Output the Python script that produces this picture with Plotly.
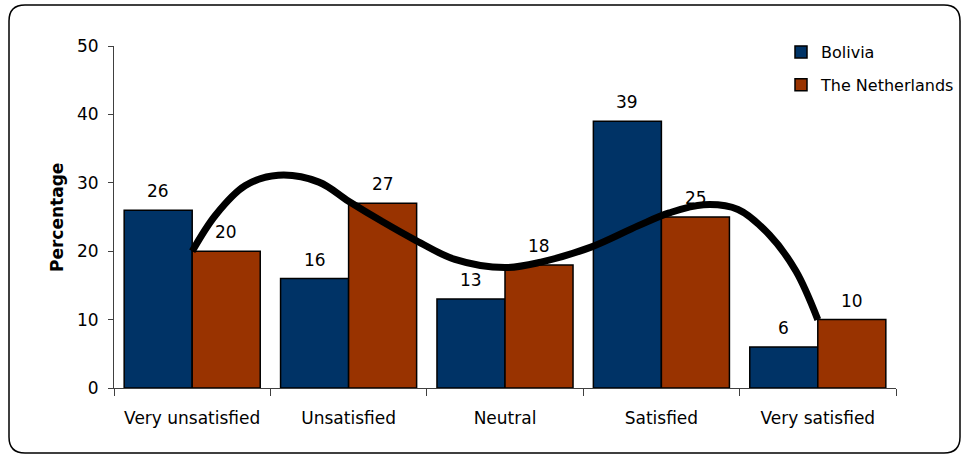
import plotly.graph_objects as go

# Survey satisfaction, share of respondents per answer (%)
categories = ["Very unsatisfied", "Unsatisfied", "Neutral", "Satisfied", "Very satisfied"]
bolivia = [26, 16, 13, 39, 6]
netherlands = [20, 27, 18, 25, 10]

# Smoothed trend line traced along the Netherlands results
# (position in category units, value in %)
trend_x = [0.0, 0.15, 0.34, 0.55, 0.81, 1.0, 1.21, 1.42, 1.68, 2.0,
           2.23, 2.55, 2.85, 3.05, 3.27, 3.49, 3.69, 3.86, 4.0]
trend_y = [20, 25.3, 29.6, 31.1, 30.1, 27.3, 24.4, 21.7, 18.8, 17.6,
           18.4, 20.6, 23.7, 25.6, 26.8, 26.1, 22.4, 17.1, 10]

FONT = "DejaVu Sans"
BLUE = "#003366"
BROWN = "#993300"

W, H = 963, 456
ML, MR, MT, MB = 114, 67, 46, 68
PW, PH = W - ML - MR, H - MT - MB


def px_x(px):
    return (px - ML) / PW


def px_y(py):
    return (H - MB - py) / PH


fig = go.Figure()
fig.add_trace(go.Bar(
    x=categories, y=bolivia, name="Bolivia", legendgroup="a",
    marker=dict(color=BLUE, line=dict(color="#000000", width=1.5)),
))
fig.add_trace(go.Bar(
    x=categories, y=netherlands, name="The Netherlands", legendgroup="b",
    marker=dict(color=BROWN, line=dict(color="#000000", width=1.5)),
))
fig.add_trace(go.Scatter(
    x=trend_x, y=trend_y, xaxis="x2", mode="lines", showlegend=False,
    line=dict(color="#000000", width=7, shape="spline", smoothing=1.0),
    hoverinfo="skip",
))

# value labels above each bar
annotations = []
for i, (b, n) in enumerate(zip(bolivia, netherlands)):
    for val, off in ((b, -0.218), (n, 0.218)):
        annotations.append(dict(
            x=i + off, y=val, xref="x2", yref="y", text=str(val),
            showarrow=False, yanchor="bottom", yshift=7,
            font=dict(family=FONT, size=17, color="#000000"),
        ))

# y-axis title
annotations.append(dict(
    x=px_x(57), y=0.5, xref="paper", yref="paper", text="<b>Percentage</b>",
    textangle=-90, showarrow=False, xanchor="center", yanchor="middle",
    font=dict(family=FONT, size=17, color="#000000"),
))

# rounded frame around the whole chart
l, r, t, b, rad = 9, 960, 5, 453, 16
path = (
    f"M {px_x(l + rad)},{px_y(t)} L {px_x(r - rad)},{px_y(t)} "
    f"Q {px_x(r)},{px_y(t)} {px_x(r)},{px_y(t + rad)} "
    f"L {px_x(r)},{px_y(b - rad)} Q {px_x(r)},{px_y(b)} {px_x(r - rad)},{px_y(b)} "
    f"L {px_x(l + rad)},{px_y(b)} Q {px_x(l)},{px_y(b)} {px_x(l)},{px_y(b - rad)} "
    f"L {px_x(l)},{px_y(t + rad)} Q {px_x(l)},{px_y(t)} {px_x(l + rad)},{px_y(t)} Z"
)

fig.update_layout(
    width=W, height=H,
    margin=dict(l=ML, r=MR, t=MT, b=MB, autoexpand=False),
    paper_bgcolor="white", plot_bgcolor="white",
    barmode="group", bargap=0.13, bargroupgap=0,
    font=dict(family=FONT, size=17, color="#000000"),
    xaxis=dict(
        type="category", range=[-0.5, 4.5], showgrid=False, zeroline=False,
        showline=True, linecolor="#404040", linewidth=1,
        ticks="outside", tickson="boundaries", ticklen=7, tickcolor="#404040",
        tickfont=dict(family=FONT, size=17), ticklabelstandoff=15,
        fixedrange=True,
    ),
    xaxis2=dict(
        overlaying="x", range=[-0.5, 4.5], visible=False, fixedrange=True,
    ),
    yaxis=dict(
        range=[0, 50], dtick=10, showgrid=False, zeroline=False,
        showline=True, linecolor="#404040", linewidth=1,
        ticks="outside", ticklen=5, tickcolor="#404040",
        tickfont=dict(family=FONT, size=17), ticklabelstandoff=6,
        fixedrange=True,
    ),
    legend=dict(
        xref="container", yref="container",
        x=781 / W, y=1 - 35 / H, xanchor="left", yanchor="top",
        font=dict(family=FONT, size=16), traceorder="grouped",
        tracegroupgap=9, bgcolor="rgba(0,0,0,0)", itemwidth=30,
    ),
    annotations=annotations,
    shapes=[dict(type="path", path=path, xref="paper", yref="paper",
                 line=dict(color="#000000", width=1.5), layer="above")],
    showlegend=True,
)

fig.write_html("out.html")
